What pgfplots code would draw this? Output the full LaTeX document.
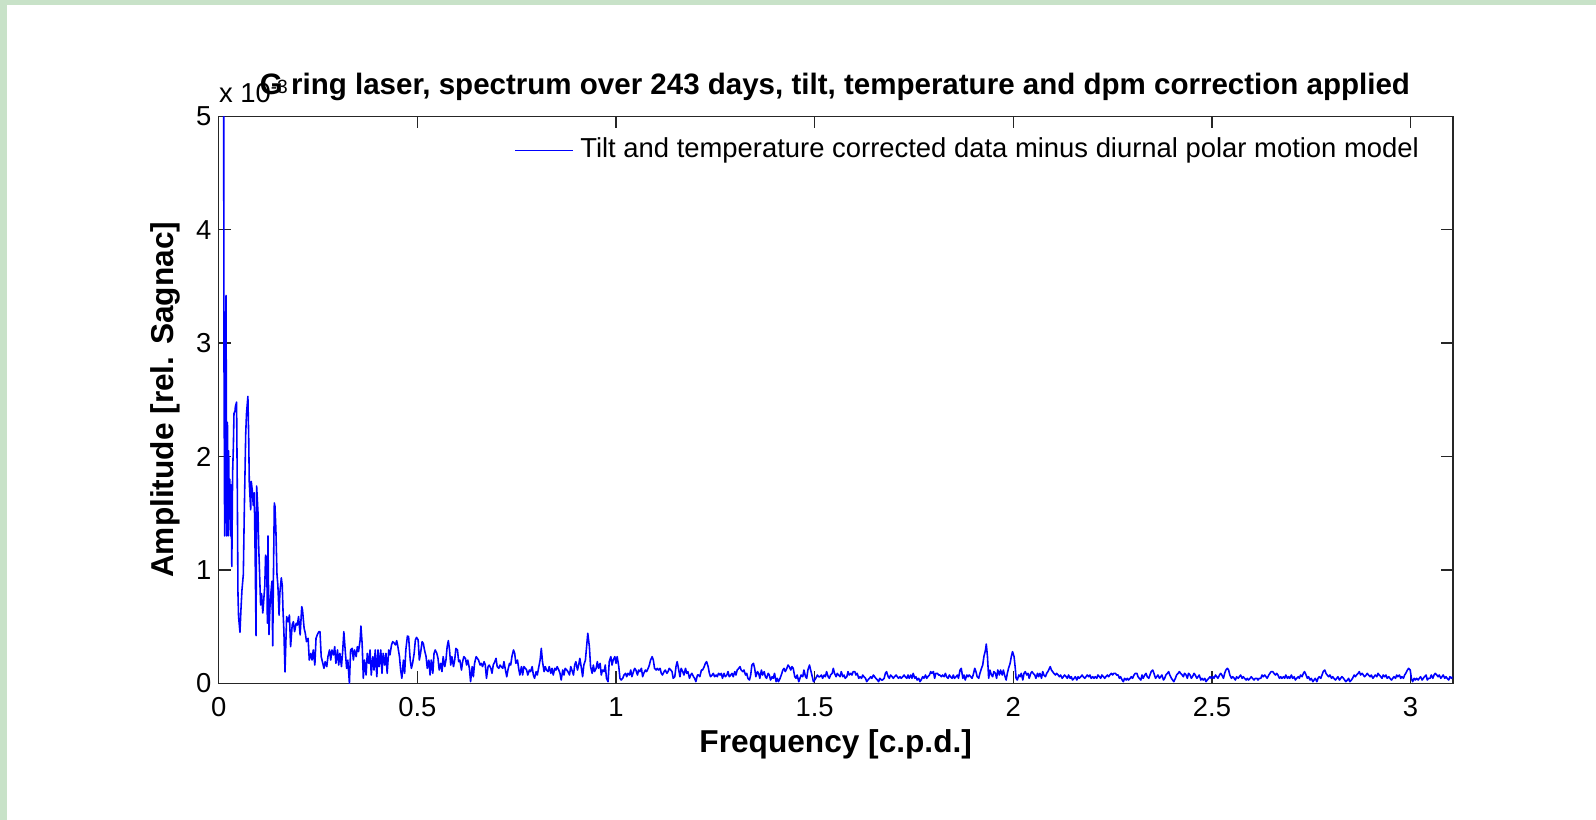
\documentclass[border=0pt]{standalone}
\usepackage{fontspec}
\setmainfont{Liberation Sans}
\usepackage{pgfplots}
\pgfplotsset{compat=1.18}
\definecolor{pageGreen}{RGB}{200,226,200}
\definecolor{lineBlue}{RGB}{0,0,255}
\newcommand{\normfont}{\fontsize{7.8}{9.4}\selectfont}
\newcommand{\labfont}{\fontsize{9}{10.8}\selectfont\bfseries}
\newcommand{\titfont}{\fontsize{8.4}{10}\selectfont\bfseries}

\begin{document}
\begin{tikzpicture}
\fill[pageGreen] (0,0) rectangle (15.96,8.20);
\fill[white] (0.07,0) rectangle (15.96,8.15);
\useasboundingbox (0,0) rectangle (15.96,8.20);
\begin{axis}[
    at={(2.187cm,1.367cm)}, anchor=south west,
    scale only axis, width=12.34cm, height=5.67cm,
    xmin=0, xmax=3.106, ymin=0, ymax=5,
    xtick={0,0.5,1,1.5,2,2.5,3}, ytick={0,1,2,3,4,5},
    tick align=inside, major tick length=0.12cm,
    axis line style={black!85, line width=0.45pt},
    every tick/.style={black!85, line width=0.45pt},
    tick label style={font=\normfont},
    /pgf/number format/assume math mode=true,
    xticklabel style={yshift=-0.02cm},
    yticklabel style={xshift=0.05cm},
    xlabel={Frequency [c.p.d.]},
    ylabel={Amplitude [rel. Sagnac]},
    label style={font=\labfont},
    xlabel style={at={(axis description cs:0.5,-0.107)}, anchor=center},
    ylabel style={at={(axis description cs:-0.043,0.5)}, anchor=center},
    legend style={at={(axis description cs:0.2393,0.9394)}, anchor=west,
        draw=none, fill=none, font=\normfont, inner sep=0pt},
    legend image code/.code={\draw[#1] (0cm,0cm) -- (0.49cm,0cm); \path (0cm,0cm) -- (0.57cm,0cm);},
]
\addplot[lineBlue, line width=0.45pt, line join=round] coordinates {
(0.012,9.0)(0.013,3.15)(0.015,1.30)(0.017,3.10)(0.0185,3.42)(0.020,1.30)(0.022,2.30)(0.024,1.30)
(0.025,2.05)(0.027,1.45)(0.028,1.80)(0.030,1.30)(0.031,1.75)(0.033,1.03)(0.035,1.85)(0.037,2.10)
(0.0385,2.38)(0.041,2.40)(0.042,2.44)(0.045,2.48)(0.047,1.63)(0.0485,0.79)(0.050,0.59)(0.0535,0.45)
(0.056,0.65)(0.0585,0.82)(0.062,0.96)(0.0645,1.53)(0.068,2.20)(0.070,2.38)(0.0735,2.53)(0.0755,2.17)
(0.077,1.77)(0.0805,1.53)(0.082,1.78)(0.0845,1.70)(0.087,1.57)(0.0895,1.68)(0.092,1.06)(0.094,0.42)
(0.0955,1.74)(0.099,1.50)(0.1005,1.23)(0.103,0.96)(0.1055,0.69)(0.108,0.79)(0.111,0.62)(0.116,0.86)
(0.118,1.13)(0.121,1.10)(0.1225,0.53)(0.124,1.30)(0.1265,0.43)(0.129,0.67)(0.1315,0.80)(0.134,0.90)
(0.136,0.33)(0.1375,0.86)(0.140,1.59)(0.1417,1.56)(0.144,1.35)(0.1467,0.96)(0.149,0.86)(0.152,0.60)
(0.154,0.80)(0.1576,0.93)(0.160,0.86)(0.162,0.63)(0.164,0.47)(0.1669,0.10)
(0.171,0.588)(0.175,0.543)(0.178,0.602)(0.181,0.323)(0.185,0.514)(0.188,0.543)(0.191,0.455)(0.195,0.529)
(0.198,0.514)(0.201,0.588)(0.205,0.426)(0.209,0.676)(0.211,0.646)(0.215,0.485)(0.218,0.441)(0.221,0.367)
(0.225,0.397)(0.228,0.205)(0.232,0.264)(0.235,0.205)(0.238,0.294)(0.242,0.161)(0.245,0.397)(0.248,0.426)
(0.252,0.455)(0.255,0.455)(0.258,0.235)(0.262,0.176)(0.265,0.132)(0.268,0.191)(0.272,0.147)(0.275,0.235)
(0.279,0.294)(0.282,0.205)(0.285,0.294)(0.289,0.250)(0.292,0.323)(0.295,0.176)(0.299,0.294)(0.302,0.161)
(0.305,0.264)(0.309,0.147)(0.312,0.279)(0.315,0.455)(0.319,0.264)(0.322,0.132)(0.325,0.205)(0.329,0.000)
(0.332,0.294)(0.336,0.308)(0.339,0.205)(0.342,0.294)(0.346,0.235)(0.349,0.323)(0.352,0.279)(0.356,0.382)
(0.358,0.505)(0.361,0.352)(0.364,0.044)(0.367,0.205)(0.371,0.073)(0.374,0.264)(0.378,0.176)(0.381,0.294)
(0.384,0.073)(0.388,0.235)(0.391,0.117)(0.394,0.294)(0.398,0.058)(0.401,0.294)(0.404,0.147)(0.408,0.294)
(0.411,0.088)(0.414,0.264)(0.418,0.161)(0.421,0.264)(0.424,0.088)(0.428,0.294)(0.431,0.250)(0.435,0.338)
(0.438,0.367)(0.441,0.358)(0.445,0.338)(0.448,0.376)(0.451,0.323)(0.455,0.235)(0.458,0.117)(0.461,0.044)
(0.465,0.205)(0.468,0.088)(0.471,0.294)(0.475,0.417)(0.478,0.411)(0.482,0.205)(0.485,0.132)(0.488,0.176)
(0.492,0.264)(0.495,0.382)(0.498,0.405)(0.502,0.382)(0.505,0.205)(0.508,0.264)(0.512,0.367)(0.515,0.352)
(0.518,0.294)(0.522,0.235)(0.525,0.132)(0.529,0.205)(0.532,0.073)(0.535,0.205)(0.539,0.088)(0.542,0.264)
(0.545,0.294)(0.549,0.264)(0.552,0.220)(0.555,0.117)(0.559,0.176)(0.562,0.103)(0.565,0.235)(0.569,0.147)
(0.572,0.205)(0.575,0.323)(0.578,0.376)(0.581,0.294)(0.584,0.161)(0.587,0.235)(0.591,0.147)(0.594,0.205)
(0.597,0.308)(0.601,0.294)(0.604,0.191)(0.607,0.205)(0.611,0.117)(0.614,0.191)(0.617,0.235)(0.621,0.220)
(0.624,0.161)(0.627,0.205)(0.631,0.132)(0.634,0.014)(0.638,0.147)(0.641,0.058)(0.644,0.176)(0.648,0.235)
(0.651,0.220)(0.654,0.205)(0.658,0.161)(0.661,0.176)(0.664,0.147)(0.668,0.191)(0.671,0.161)(0.674,0.044)
(0.678,0.147)(0.681,0.161)(0.685,0.132)(0.688,0.088)(0.691,0.161)(0.695,0.191)(0.698,0.220)(0.701,0.147)
(0.705,0.132)(0.708,0.161)(0.711,0.147)(0.715,0.132)(0.718,0.191)(0.721,0.132)(0.725,0.058)(0.728,0.117)
(0.732,0.176)(0.735,0.161)(0.738,0.235)(0.742,0.294)(0.745,0.264)(0.748,0.176)(0.752,0.205)(0.755,0.132)
(0.758,0.073)(0.762,0.147)(0.765,0.073)(0.768,0.147)(0.772,0.132)(0.775,0.117)(0.778,0.073)(0.782,0.117)
(0.785,0.103)(0.789,0.147)(0.792,0.073)(0.795,0.044)(0.799,0.103)(0.802,0.073)(0.805,0.132)(0.809,0.205)
(0.812,0.308)(0.815,0.191)(0.819,0.103)(0.822,0.147)(0.825,0.117)(0.829,0.103)(0.832,0.147)(0.836,0.088)
(0.839,0.132)(0.842,0.073)(0.846,0.132)(0.849,0.117)(0.852,0.147)(0.856,0.117)(0.859,0.088)(0.862,0.029)
(0.866,0.117)(0.869,0.073)(0.872,0.132)(0.876,0.117)(0.879,0.103)(0.883,0.073)(0.886,0.147)(0.889,0.117)
(0.893,0.073)(0.896,0.161)(0.899,0.191)(0.903,0.117)(0.906,0.161)(0.909,0.220)(0.913,0.132)(0.916,0.058)
(0.919,0.161)(0.923,0.205)(0.926,0.323)(0.929,0.441)(0.933,0.323)(0.936,0.147)(0.940,0.088)(0.943,0.161)
(0.946,0.103)(0.950,0.132)(0.953,0.191)(0.956,0.132)(0.960,0.176)(0.963,0.073)(0.966,0.117)(0.970,0.103)
(0.973,0.161)(0.976,0.044)(0.980,0.014)(0.983,0.191)(0.987,0.235)(0.990,0.161)(0.993,0.205)(0.997,0.235)
(1.000,0.176)(1.003,0.235)(1.007,0.147)(1.010,0.044)(1.013,0.029)(1.017,0.044)(1.020,0.073)(1.024,0.088)
(1.027,0.058)(1.030,0.088)(1.034,0.073)(1.037,0.117)(1.040,0.058)(1.044,0.103)(1.047,0.132)(1.050,0.117)
(1.054,0.073)(1.057,0.117)(1.060,0.103)(1.064,0.132)(1.067,0.058)(1.070,0.088)(1.074,0.117)(1.077,0.103)
(1.081,0.132)(1.084,0.161)(1.087,0.205)(1.091,0.235)(1.094,0.205)(1.097,0.132)(1.101,0.117)(1.104,0.132)
(1.107,0.117)(1.111,0.132)(1.114,0.088)(1.117,0.073)(1.121,0.103)(1.124,0.117)(1.128,0.088)(1.131,0.103)
(1.134,0.132)(1.138,0.117)(1.141,0.103)(1.144,0.044)(1.148,0.058)(1.151,0.147)(1.154,0.191)(1.158,0.117)
(1.161,0.058)(1.164,0.132)(1.168,0.103)(1.171,0.073)(1.175,0.132)(1.178,0.088)(1.181,0.103)(1.185,0.044)
(1.188,0.073)(1.191,0.088)(1.195,0.058)(1.198,0.044)(1.201,0.014)(1.205,0.073)(1.208,0.073)(1.211,0.058)
(1.215,0.117)(1.218,0.117)(1.222,0.147)(1.225,0.176)(1.228,0.191)(1.232,0.147)(1.235,0.088)(1.238,0.058)
(1.242,0.073)(1.245,0.088)(1.248,0.058)(1.252,0.073)(1.255,0.058)(1.258,0.088)(1.262,0.073)(1.265,0.088)
(1.268,0.044)(1.272,0.088)(1.275,0.058)(1.279,0.073)(1.282,0.103)(1.285,0.058)(1.289,0.073)(1.292,0.088)
(1.295,0.058)(1.299,0.103)(1.302,0.073)(1.305,0.117)(1.309,0.132)(1.312,0.147)(1.315,0.117)(1.319,0.103)
(1.322,0.117)(1.326,0.073)(1.329,0.088)(1.332,0.044)(1.336,0.029)(1.339,0.073)(1.342,0.161)(1.346,0.176)
(1.349,0.132)(1.352,0.058)(1.356,0.103)(1.359,0.088)(1.362,0.044)(1.366,0.117)(1.369,0.073)(1.373,0.103)
(1.376,0.058)(1.379,0.044)(1.383,0.088)(1.386,0.073)(1.389,0.029)(1.393,0.058)(1.396,0.044)(1.399,0.088)
(1.403,0.014)(1.406,0.044)(1.409,0.014)(1.413,0.044)(1.416,0.073)(1.420,0.117)(1.423,0.132)(1.426,0.103)
(1.430,0.132)(1.433,0.161)(1.436,0.147)(1.440,0.117)(1.443,0.147)(1.446,0.132)(1.450,0.058)(1.453,0.044)
(1.456,0.073)(1.460,0.014)(1.463,0.044)(1.466,0.073)(1.470,0.058)(1.473,0.117)(1.477,0.058)(1.480,0.044)
(1.483,0.117)(1.487,0.161)(1.490,0.117)(1.493,0.073)(1.497,0.014)(1.500,0.029)(1.503,0.044)(1.507,0.073)
(1.510,0.058)(1.513,0.058)(1.517,0.073)(1.520,0.044)(1.524,0.073)(1.527,0.058)(1.530,0.103)(1.534,0.058)
(1.537,0.044)(1.540,0.073)(1.544,0.088)(1.547,0.132)(1.550,0.088)(1.554,0.058)(1.557,0.088)(1.560,0.073)
(1.564,0.058)(1.567,0.103)(1.571,0.058)(1.574,0.073)(1.577,0.044)(1.581,0.058)(1.584,0.103)(1.587,0.073)
(1.591,0.088)(1.594,0.073)(1.597,0.103)(1.601,0.103)(1.604,0.073)(1.607,0.088)(1.611,0.044)(1.614,0.058)
(1.618,0.044)(1.621,0.073)(1.624,0.058)(1.628,0.044)(1.631,0.014)(1.634,0.029)(1.638,0.044)(1.641,0.058)
(1.644,0.044)(1.648,0.073)(1.651,0.058)(1.654,0.044)(1.658,0.029)(1.661,0.014)(1.664,0.044)(1.668,0.029)
(1.671,0.029)(1.675,0.044)(1.678,0.088)(1.681,0.103)(1.685,0.058)(1.688,0.044)(1.691,0.073)(1.695,0.058)
(1.698,0.044)(1.701,0.058)(1.705,0.073)(1.708,0.058)(1.711,0.044)(1.715,0.058)(1.718,0.044)(1.722,0.058)
(1.725,0.073)(1.728,0.058)(1.732,0.044)(1.735,0.073)(1.738,0.044)(1.742,0.073)(1.745,0.044)(1.748,0.088)
(1.752,0.044)(1.755,0.058)(1.758,0.029)(1.762,0.044)(1.765,0.014)(1.768,0.029)(1.772,0.058)(1.775,0.044)
(1.779,0.073)(1.782,0.044)(1.785,0.058)(1.789,0.073)(1.792,0.103)(1.795,0.088)(1.799,0.103)(1.802,0.044)
(1.805,0.088)(1.809,0.088)(1.812,0.073)(1.815,0.073)(1.819,0.058)(1.822,0.073)(1.826,0.058)(1.829,0.088)
(1.832,0.058)(1.836,0.044)(1.839,0.073)(1.842,0.058)(1.846,0.044)(1.849,0.073)(1.852,0.044)(1.856,0.058)
(1.859,0.073)(1.862,0.044)(1.866,0.117)(1.869,0.132)(1.873,0.044)(1.876,0.073)(1.879,0.029)(1.883,0.073)
(1.886,0.058)(1.889,0.073)(1.893,0.058)(1.896,0.044)(1.899,0.073)(1.903,0.132)(1.906,0.103)(1.909,0.058)
(1.913,0.044)(1.916,0.088)(1.920,0.132)(1.923,0.161)(1.926,0.235)(1.930,0.294)(1.932,0.346)(1.935,0.235)
(1.938,0.044)(1.941,0.117)(1.945,0.073)(1.948,0.058)(1.951,0.103)(1.955,0.088)(1.958,0.044)(1.961,0.117)
(1.965,0.073)(1.968,0.117)(1.972,0.073)(1.975,0.117)(1.978,0.073)(1.982,0.029)(1.985,0.088)(1.988,0.132)
(1.992,0.176)(1.995,0.235)(1.998,0.279)(2.002,0.235)
(2.005,0.132)(2.007,0.044)(2.010,0.029)(2.014,0.073)(2.017,0.058)(2.020,0.088)(2.024,0.029)(2.027,0.088)
(2.030,0.103)(2.034,0.073)(2.037,0.088)(2.040,0.044)(2.044,0.088)(2.047,0.103)(2.050,0.088)(2.054,0.073)
(2.057,0.044)(2.061,0.088)(2.064,0.058)(2.067,0.088)(2.071,0.044)(2.074,0.103)(2.077,0.073)(2.081,0.058)
(2.084,0.088)(2.087,0.103)(2.091,0.132)(2.093,0.147)(2.096,0.117)(2.099,0.103)(2.102,0.088)(2.106,0.073)
(2.109,0.088)(2.113,0.073)(2.116,0.058)(2.119,0.073)(2.123,0.044)(2.126,0.058)(2.129,0.073)(2.133,0.058)
(2.136,0.044)(2.139,0.073)(2.143,0.044)(2.146,0.058)(2.149,0.029)(2.153,0.044)(2.156,0.058)(2.160,0.029)
(2.163,0.058)(2.166,0.044)(2.170,0.058)(2.173,0.073)(2.176,0.058)(2.180,0.044)(2.183,0.058)(2.186,0.073)
(2.190,0.058)(2.193,0.073)(2.196,0.044)(2.200,0.058)(2.203,0.044)(2.206,0.058)(2.210,0.044)(2.213,0.073)
(2.217,0.058)(2.220,0.044)(2.223,0.073)(2.227,0.058)(2.230,0.044)(2.233,0.058)(2.237,0.073)(2.240,0.058)
(2.243,0.073)(2.247,0.088)(2.250,0.073)(2.253,0.088)(2.257,0.088)(2.260,0.073)(2.264,0.073)(2.267,0.044)
(2.270,0.058)(2.274,0.029)(2.277,0.014)(2.280,0.044)(2.284,0.029)(2.287,0.044)(2.290,0.029)(2.294,0.044)
(2.297,0.058)(2.300,0.044)(2.304,0.073)(2.307,0.088)(2.311,0.088)(2.314,0.058)(2.317,0.044)(2.321,0.029)
(2.324,0.073)(2.327,0.044)(2.331,0.073)(2.334,0.088)(2.337,0.058)(2.341,0.044)(2.344,0.073)(2.347,0.103)
(2.351,0.117)(2.354,0.088)(2.358,0.044)(2.361,0.058)(2.364,0.073)(2.368,0.044)(2.371,0.058)(2.374,0.073)
(2.378,0.029)(2.381,0.044)(2.384,0.073)(2.388,0.088)(2.391,0.103)(2.394,0.073)(2.398,0.044)(2.401,0.029)
(2.404,0.014)(2.408,0.044)(2.411,0.073)(2.415,0.088)(2.418,0.103)(2.421,0.088)(2.425,0.073)(2.428,0.058)
(2.431,0.088)(2.435,0.073)(2.438,0.044)(2.441,0.088)(2.445,0.073)(2.448,0.044)(2.451,0.058)(2.455,0.088)
(2.458,0.073)(2.462,0.044)(2.465,0.058)(2.468,0.073)(2.472,0.029)(2.475,0.044)(2.478,0.029)(2.482,0.044)
(2.485,0.014)(2.488,0.029)(2.492,0.044)(2.495,0.058)(2.498,0.044)(2.502,0.058)(2.505,0.044)(2.509,0.073)
(2.512,0.058)(2.515,0.044)(2.519,0.073)(2.522,0.088)(2.525,0.073)(2.529,0.044)(2.532,0.088)(2.535,0.117)
(2.539,0.132)(2.542,0.117)(2.545,0.073)(2.549,0.044)(2.552,0.058)(2.556,0.044)(2.559,0.029)(2.562,0.058)
(2.566,0.044)(2.569,0.058)(2.572,0.073)(2.576,0.044)(2.579,0.058)(2.582,0.044)(2.586,0.029)(2.589,0.044)
(2.592,0.029)(2.596,0.044)(2.599,0.058)(2.602,0.044)(2.606,0.029)(2.609,0.044)(2.613,0.044)(2.616,0.029)
(2.619,0.044)(2.623,0.044)(2.626,0.073)(2.629,0.058)(2.633,0.073)(2.636,0.058)(2.639,0.044)(2.643,0.073)
(2.646,0.088)(2.649,0.103)(2.653,0.103)(2.656,0.088)(2.660,0.073)(2.663,0.088)(2.666,0.073)(2.670,0.044)
(2.673,0.058)(2.676,0.044)(2.680,0.058)(2.683,0.044)(2.686,0.073)(2.690,0.044)(2.693,0.058)(2.696,0.044)
(2.700,0.073)(2.703,0.044)(2.707,0.058)(2.710,0.029)(2.713,0.044)(2.717,0.058)(2.720,0.044)(2.723,0.073)
(2.727,0.058)(2.730,0.088)(2.733,0.103)(2.737,0.073)(2.740,0.044)(2.743,0.058)(2.747,0.029)(2.750,0.044)
(2.754,0.014)(2.757,0.029)(2.760,0.044)(2.764,0.014)(2.767,0.044)(2.770,0.058)(2.774,0.044)(2.777,0.073)
(2.780,0.103)(2.784,0.117)(2.787,0.088)(2.790,0.073)(2.794,0.058)(2.797,0.073)(2.801,0.044)(2.804,0.058)
(2.807,0.044)(2.811,0.029)(2.814,0.044)(2.817,0.058)(2.821,0.029)(2.824,0.044)(2.827,0.058)(2.831,0.044)
(2.834,0.029)(2.837,0.014)(2.841,0.029)(2.844,0.044)(2.847,0.014)(2.851,0.029)(2.854,0.044)(2.858,0.073)
(2.861,0.058)(2.864,0.073)(2.868,0.088)(2.871,0.103)(2.874,0.073)(2.878,0.088)(2.881,0.073)(2.884,0.058)
(2.888,0.073)(2.891,0.088)(2.894,0.073)(2.898,0.058)(2.901,0.073)(2.905,0.044)(2.908,0.058)(2.911,0.073)
(2.915,0.058)(2.918,0.088)(2.921,0.073)(2.925,0.058)(2.928,0.044)(2.931,0.073)(2.935,0.058)(2.938,0.073)
(2.941,0.044)(2.945,0.058)(2.948,0.044)(2.952,0.029)(2.955,0.044)(2.958,0.058)(2.962,0.044)(2.965,0.073)
(2.968,0.058)(2.972,0.073)(2.975,0.044)(2.978,0.058)(2.982,0.044)(2.985,0.073)(2.988,0.088)(2.992,0.117)
(2.995,0.132)(2.999,0.117)(3.002,0.044)(3.005,0.014)(3.009,0.044)(3.012,0.029)(3.015,0.044)(3.019,0.029)
(3.022,0.044)(3.025,0.058)(3.029,0.029)(3.032,0.044)(3.035,0.058)(3.039,0.073)(3.042,0.029)(3.045,0.044)
(3.049,0.044)(3.052,0.073)(3.056,0.044)(3.059,0.073)(3.062,0.088)(3.066,0.073)(3.069,0.058)(3.072,0.073)
(3.076,0.044)(3.079,0.058)(3.082,0.073)(3.086,0.044)(3.089,0.058)(3.092,0.044)(3.096,0.029)(3.099,0.058)
(3.103,0.044)(3.106,0.058)
};
\addlegendentry{Tilt and temperature corrected data minus diurnal polar motion model}
\end{axis}
\node[anchor=base west, font=\normfont, inner sep=0pt] at (2.183,7.17) {x 10\textsuperscript{-3}};
\node[anchor=base, font=\titfont, inner sep=0pt] at (8.35,7.25) {G ring laser, spectrum over 243 days, tilt, temperature and dpm correction applied};
\end{tikzpicture}
\end{document}
